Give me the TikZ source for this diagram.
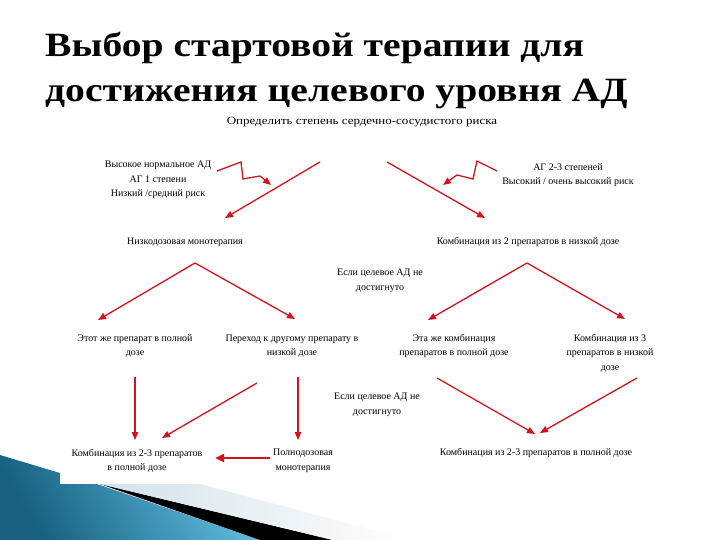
\documentclass[tikz,border=0pt]{standalone}
\usepackage{fontspec}
\setmainfont{Liberation Serif}
\newfontfamily\titlefont[FakeStretch=1.165]{Liberation Serif}
\newfontfamily\widefont[FakeStretch=1.18]{Liberation Serif}
\usetikzlibrary{arrows.meta}
\definecolor{arrred}{HTML}{D0141E}
\definecolor{bluedark}{HTML}{17607F}
\definecolor{bluelight}{HTML}{62BFE2}
\definecolor{stripe}{HTML}{D3E2EA}
\tikzset{
  lbl/.style={inner sep=0pt, align=center, font=\fontsize{10}{14.5}\selectfont},
  ttl/.style={inner sep=0pt, anchor=base west, font=\titlefont\bfseries\fontsize{34}{40}\selectfont},
  arr/.style={draw=arrred, line width=1.3pt, -{Triangle[length=8pt,width=6.5pt]}},
  arrthick/.style={draw=arrred, line width=2.6pt, -{Triangle[length=9pt,width=8pt]}}
}
\begin{document}
\begin{tikzpicture}[x=1pt,y=-1pt]
\useasboundingbox (0,0) rectangle (720,540);
% decoration
\shade[top color=bluelight, bottom color=bluedark, shading angle=-60]
  (0,455) -- (100,485) -- (260,540) -- (0,540) -- cycle;
\fill[black] (100,484) -- (333,540) -- (260,540) -- cycle;
\shade[left color=stripe, right color=white]
  (100,484) -- (200,484) -- (411,540) -- (333,540) -- cycle;
\fill[white] (60,100) rectangle (720,484);
% title
\node[ttl] (t1) at (45,57) {Выбор стартовой терапии для};
\node[ttl] (t2) at (45,102) {достижения целевого уровня АД};
% texts
\node[lbl, font=\widefont\fontsize{11}{14}\selectfont] (risk) at (362,122) {Определить степень сердечно-сосудистого риска};
\node[lbl] (lg) at (158,180) {Высокое нормальное АД\\АГ 1 степени\\Низкий /средний риск};
\node[lbl] (rg) at (568,175) {АГ 2-3 степеней\\Высокий / очень высокий риск};
\node[lbl] (lowmono) at (185,242) {Низкодозовая монотерапия};
\node[lbl] (combo2) at (528,242) {Комбинация из 2 препаратов в низкой дозе};
\node[lbl] (if1) at (380,281) {Если целевое АД не\\достигнуто};
\node[lbl] (same1) at (135,346) {Этот же препарат в полной\\дозе};
\node[lbl] (switch) at (292,346) {Переход к другому препарату в\\низкой дозе};
\node[lbl] (samecombo) at (454,346) {Эта же комбинация\\препаратов в полной дозе};
\node[lbl] (combo3) at (610,353) {Комбинация из 3\\препаратов в низкой\\дозе};
\node[lbl] (if2) at (377,405) {Если целевое АД не\\достигнуто};
\node[lbl] (full23) at (137,461) {Комбинация из 2-3 препаратов\\в полной дозе};
\node[lbl] (fullmono) at (303,461) {Полнодозовая\\монотерапия};
\node[lbl] (final) at (536,453) {Комбинация из 2-3 препаратов в полной дозе};
% coordinates
\coordinate (zl0) at (217,171);
\coordinate (zl1) at (241,162);
\coordinate (zl2) at (243,179);
\coordinate (zl3) at (260,176);
\coordinate (zl4) at (271,185);
\coordinate (zr0) at (497,171);
\coordinate (zr1) at (477,161);
\coordinate (zr2) at (473,179);
\coordinate (zr3) at (457,175);
\coordinate (zr4) at (443,185);
\coordinate (ls) at (320,162);
\coordinate (le) at (225,218);
\coordinate (rs) at (387,162);
\coordinate (re) at (485,218);
\coordinate (v1) at (195,263);
\coordinate (v1l) at (98,320);
\coordinate (v1r) at (295,319);
\coordinate (v2) at (527,263);
\coordinate (v2l) at (428,320);
\coordinate (v2r) at (625,319);
\coordinate (d1s) at (135,377);
\coordinate (d1e) at (135,440);
\coordinate (d2s) at (298,377);
\coordinate (d2e) at (298,440);
\coordinate (dgs) at (257,383);
\coordinate (dge) at (162,438);
\coordinate (w1s) at (437,378);
\coordinate (w1e) at (535,434);
\coordinate (w2s) at (637,378);
\coordinate (w2e) at (540,433);
\coordinate (hs) at (270,458);
\coordinate (he) at (215,458);
% arrows
\draw[arr] (zl0) -- (zl1) -- (zl2) -- (zl3) -- (zl4);
\draw[arr] (zr0) -- (zr1) -- (zr2) -- (zr3) -- (zr4);
\draw[arr] (ls) -- (le);
\draw[arr] (rs) -- (re);
\draw[arr] (v1) -- (v1l);
\draw[arr] (v1) -- (v1r);
\draw[arr] (v2) -- (v2l);
\draw[arr] (v2) -- (v2r);
\draw[arr] (d1s) -- (d1e);
\draw[arr] (d2s) -- (d2e);
\draw[arr] (dgs) -- (dge);
\draw[arr] (w1s) -- (w1e);
\draw[arr] (w2s) -- (w2e);
\draw[arrthick] (hs) -- (he);
\end{tikzpicture}
\end{document}
